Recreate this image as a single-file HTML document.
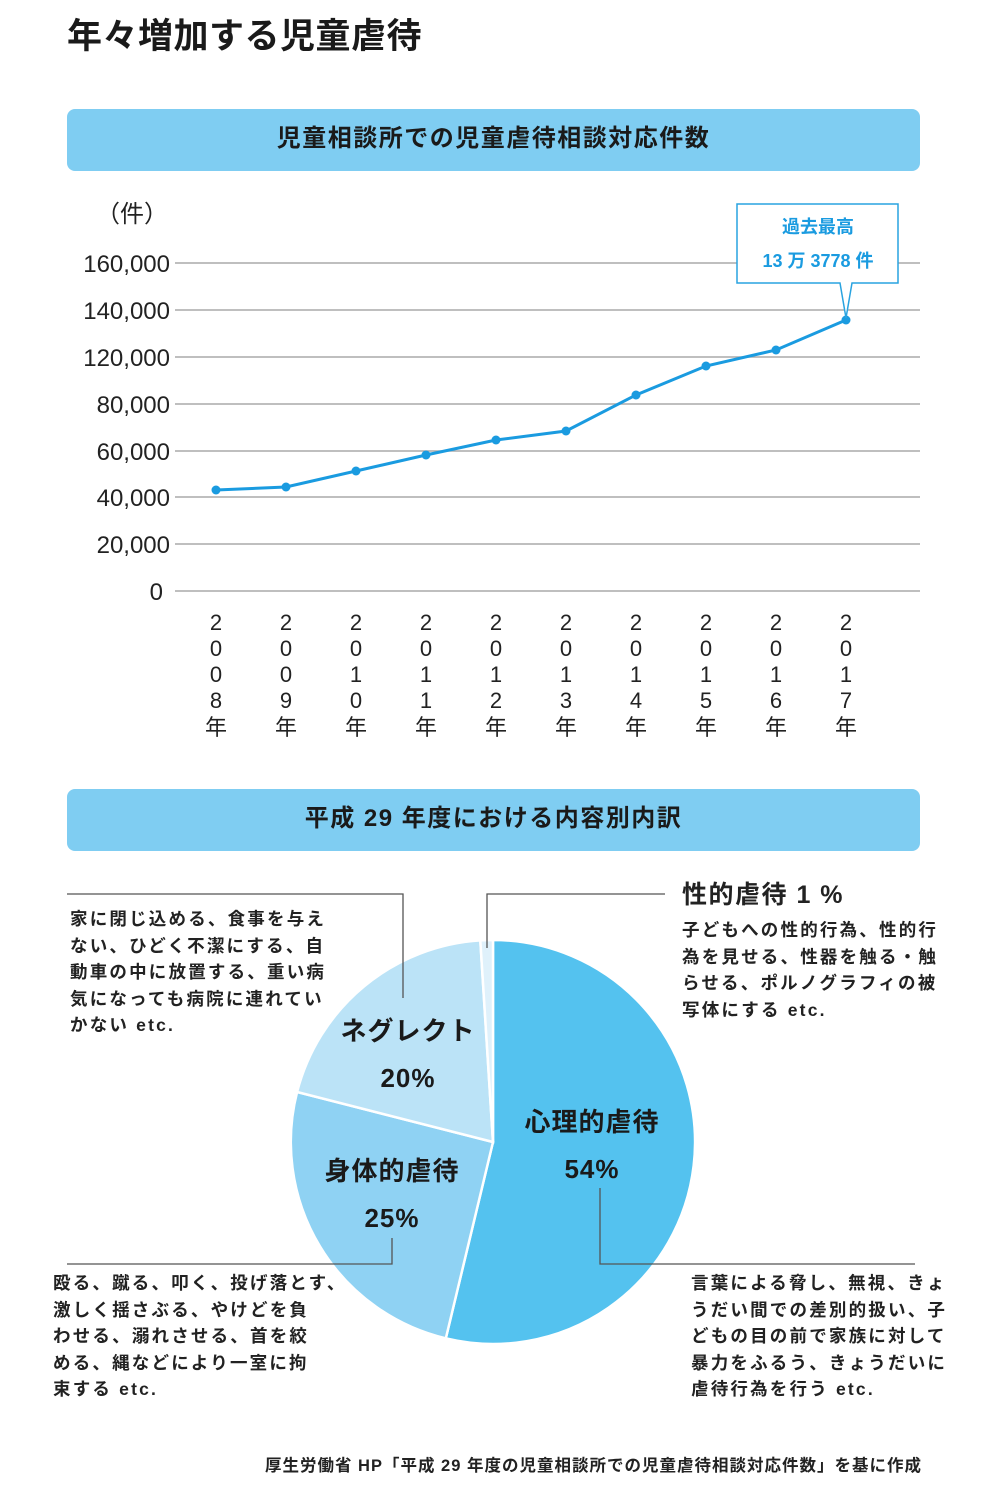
<!DOCTYPE html>
<html><head><meta charset="utf-8"><style>
body{margin:0;width:1000px;height:1500px;background:#fff;position:relative;font-family:"Liberation Sans","Noto Sans CJK JP",sans-serif;color:#222;overflow:hidden}
.a{position:absolute;white-space:nowrap}
.ban{position:absolute;left:67px;width:853px;height:62px;background:#7fcdf2;border-radius:8px;text-align:center;line-height:60px;font-size:24px;font-weight:bold;color:#1a1a1a;letter-spacing:1.5px}
.d{position:absolute;font-size:17.5px;font-weight:bold;line-height:26.6px;white-space:nowrap;color:#222;letter-spacing:2.2px}
</style></head><body>
<div class="a" style="left:67px;top:8px;font-size:35px;font-weight:bold;color:#1a1a1a;letter-spacing:0.5px">年々増加する児童虐待</div>
<div class="ban" style="top:109px">児童相談所での児童虐待相談対応件数</div>
<div class="ban" style="top:789px">平成 29 年度における内容別内訳</div>
<svg class="a" style="left:0;top:0" width="1000" height="1500">
<g stroke="#aaa" stroke-width="1.5">
<line x1="175" x2="920" y1="263" y2="263"/><line x1="175" x2="920" y1="310" y2="310"/><line x1="175" x2="920" y1="357" y2="357"/><line x1="175" x2="920" y1="404" y2="404"/><line x1="175" x2="920" y1="451" y2="451"/><line x1="175" x2="920" y1="497" y2="497"/><line x1="175" x2="920" y1="544" y2="544"/><line x1="175" x2="920" y1="591" y2="591"/>
</g>
<g font-size="24" text-anchor="end" fill="#222" font-family="Liberation Sans,Noto Sans CJK JP,sans-serif">
<text x="170" y="272">160,000</text><text x="170" y="319">140,000</text><text x="170" y="366">120,000</text><text x="170" y="413">80,000</text><text x="170" y="460">60,000</text><text x="170" y="506">40,000</text><text x="170" y="553">20,000</text><text x="163" y="600">0</text>
<text x="168" y="222">（件）</text>
</g>
<polyline fill="none" stroke="#1a9be0" stroke-width="3" points="216,490 286,487 356,471 426,455 496,440 566,431 636,395 706,366 776,350 846,320"/>
<g fill="#1a9be0"><circle cx="216" cy="490" r="4.5"/><circle cx="286" cy="487" r="4.5"/><circle cx="356" cy="471" r="4.5"/><circle cx="426" cy="455" r="4.5"/><circle cx="496" cy="440" r="4.5"/><circle cx="566" cy="431" r="4.5"/><circle cx="636" cy="395" r="4.5"/><circle cx="706" cy="366" r="4.5"/><circle cx="776" cy="350" r="4.5"/><circle cx="846" cy="320" r="4.5"/></g>
<path d="M737,204 H898 V283 H852 L846,318 L840,283 H737 Z" fill="#fff" stroke="#29a3e0" stroke-width="1.5"/>
<g fill="#1a9be0" font-weight="bold" font-size="18" text-anchor="middle" font-family="Liberation Sans,Noto Sans CJK JP,sans-serif"><text x="818" y="233">過去最高</text><text x="818" y="267">13 万 3778 件</text></g>
<g font-size="22" text-anchor="middle" fill="#222" font-family="Liberation Sans,Noto Sans CJK JP,sans-serif">
<text x="216" y="630">2</text><text x="216" y="656">0</text><text x="216" y="682">0</text><text x="216" y="708">8</text><text x="216" y="735">年</text>
<text x="286" y="630">2</text><text x="286" y="656">0</text><text x="286" y="682">0</text><text x="286" y="708">9</text><text x="286" y="735">年</text>
<text x="356" y="630">2</text><text x="356" y="656">0</text><text x="356" y="682">1</text><text x="356" y="708">0</text><text x="356" y="735">年</text>
<text x="426" y="630">2</text><text x="426" y="656">0</text><text x="426" y="682">1</text><text x="426" y="708">1</text><text x="426" y="735">年</text>
<text x="496" y="630">2</text><text x="496" y="656">0</text><text x="496" y="682">1</text><text x="496" y="708">2</text><text x="496" y="735">年</text>
<text x="566" y="630">2</text><text x="566" y="656">0</text><text x="566" y="682">1</text><text x="566" y="708">3</text><text x="566" y="735">年</text>
<text x="636" y="630">2</text><text x="636" y="656">0</text><text x="636" y="682">1</text><text x="636" y="708">4</text><text x="636" y="735">年</text>
<text x="706" y="630">2</text><text x="706" y="656">0</text><text x="706" y="682">1</text><text x="706" y="708">5</text><text x="706" y="735">年</text>
<text x="776" y="630">2</text><text x="776" y="656">0</text><text x="776" y="682">1</text><text x="776" y="708">6</text><text x="776" y="735">年</text>
<text x="846" y="630">2</text><text x="846" y="656">0</text><text x="846" y="682">1</text><text x="846" y="708">7</text><text x="846" y="735">年</text>
</g>
<g stroke="#fff" stroke-width="2.5">
<path d="M493,1142 L493,940 A202,202 0 1,1 445.8,1338.4 Z" fill="#54c2ef"/>
<path d="M493,1142 L445.8,1338.4 A202,202 0 0,1 297.1,1092 Z" fill="#8fd2f3"/>
<path d="M493,1142 L297.1,1092 A202,202 0 0,1 480.3,940.4 Z" fill="#bbe3f7"/>
<path d="M493,1142 L480.3,940.4 A202,202 0 0,1 493,940 Z" fill="#dff1fb"/>
</g>
<g fill="none" stroke="#555" stroke-width="1.3">
<polyline points="67,894 403,894 403,998"/>
<polyline points="487,948 487,894 665,894"/>
<polyline points="67,1264 392,1264 392,1238"/>
<polyline points="600,1188 600,1264 915,1264"/>
</g>
<g font-weight="bold" font-size="26" text-anchor="middle" fill="#1a1a1a" font-family="Liberation Sans,Noto Sans CJK JP,sans-serif" letter-spacing="1">
<text x="408" y="1040">ネグレクト</text><text x="408" y="1087">20%</text>
<text x="392" y="1180">身体的虐待</text><text x="392" y="1227">25%</text>
<text x="592" y="1131">心理的虐待</text><text x="592" y="1178">54%</text>
</g>
</svg>
<div class="a" style="left:682px;top:875px;font-size:25px;font-weight:bold;letter-spacing:1.5px">性的虐待 1 %</div>
<div class="d" style="left:70px;top:906px">家に閉じ込める、食事を与え<br>ない、ひどく不潔にする、自<br>動車の中に放置する、重い病<br>気になっても病院に連れてい<br>かない etc.</div>
<div class="d" style="left:682px;top:917px">子どもへの性的行為、性的行<br>為を見せる、性器を触る・触<br>らせる、ポルノグラフィの被<br>写体にする etc.</div>
<div class="d" style="left:53px;top:1270px">殴る、蹴る、叩く、投げ落とす、<br>激しく揺さぶる、やけどを負<br>わせる、溺れさせる、首を絞<br>める、縄などにより一室に拘<br>束する etc.</div>
<div class="d" style="left:691px;top:1270px">言葉による脅し、無視、きょ<br>うだい間での差別的扱い、子<br>どもの目の前で家族に対して<br>暴力をふるう、きょうだいに<br>虐待行為を行う etc.</div>
<div class="a" style="right:78px;top:1452px;font-size:16.5px;font-weight:bold;letter-spacing:1px">厚生労働省 HP「平成 29 年度の児童相談所での児童虐待相談対応件数」を基に作成</div>
</body></html>
